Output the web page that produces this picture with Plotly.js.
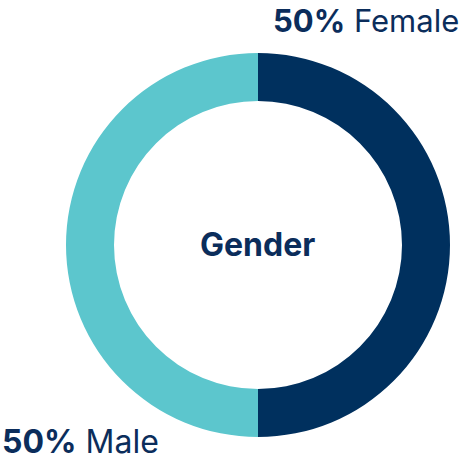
<!DOCTYPE html>
<html><head><meta charset="utf-8">
<script src="https://cdn.plot.ly/plotly-3.0.1.min.js"></script>
<style>html,body{margin:0;padding:0;background:#fff}#chart{width:463px;height:464px}</style>
</head><body><div id="chart"></div>
<script>
const categories = ["Female", "Male"];
const values = [50, 50];
const colors = ["#00305E", "#5CC6CD"];
const centerLabel = "Gender";

const W = 463, H = 464;
const cx = 258, cy = 245, R = 192;
const data = [{
  type: "pie",
  labels: categories,
  values: values,
  hole: 0.75,
  sort: false,
  direction: "clockwise",
  rotation: 0,
  marker: {colors: colors, line: {width: 0}},
  textinfo: "none",
  hoverinfo: "none",
  domain: {x: [(cx - R) / W, (cx + R) / W], y: [1 - (cy + R) / H, 1 - (cy - R) / H]}
}];
const font = "Inter, 'Open Sans', sans-serif";
const navy = "#0B2D5B";
const layout = {
  width: W, height: H,
  margin: {l: 0, r: 0, t: 0, b: 0},
  showlegend: false,
  paper_bgcolor: "#fff",
  annotations: [
    {xref: "paper", yref: "paper", x: 257 / W, y: 1 - 244 / H, xanchor: "center", yanchor: "middle",
     text: "<b>" + centerLabel + "</b>", showarrow: false, font: {family: font, size: 32, color: navy}},
    {xref: "paper", yref: "paper", x: 461 / W, y: 1, xanchor: "right", yanchor: "top",
     text: "<b>" + values[0] + "%</b> " + categories[0], showarrow: false, font: {family: font, size: 31, color: navy}},
    {xref: "paper", yref: "paper", x: 0 / W, y: 1 - 441 / H, xanchor: "left", yanchor: "middle",
     text: "<b>" + values[1] + "%</b> " + categories[1], showarrow: false, font: {family: font, size: 32, color: navy}}
  ]
};
Plotly.newPlot("chart", data, layout, {displayModeBar: false, staticPlot: true});
</script></body></html>
